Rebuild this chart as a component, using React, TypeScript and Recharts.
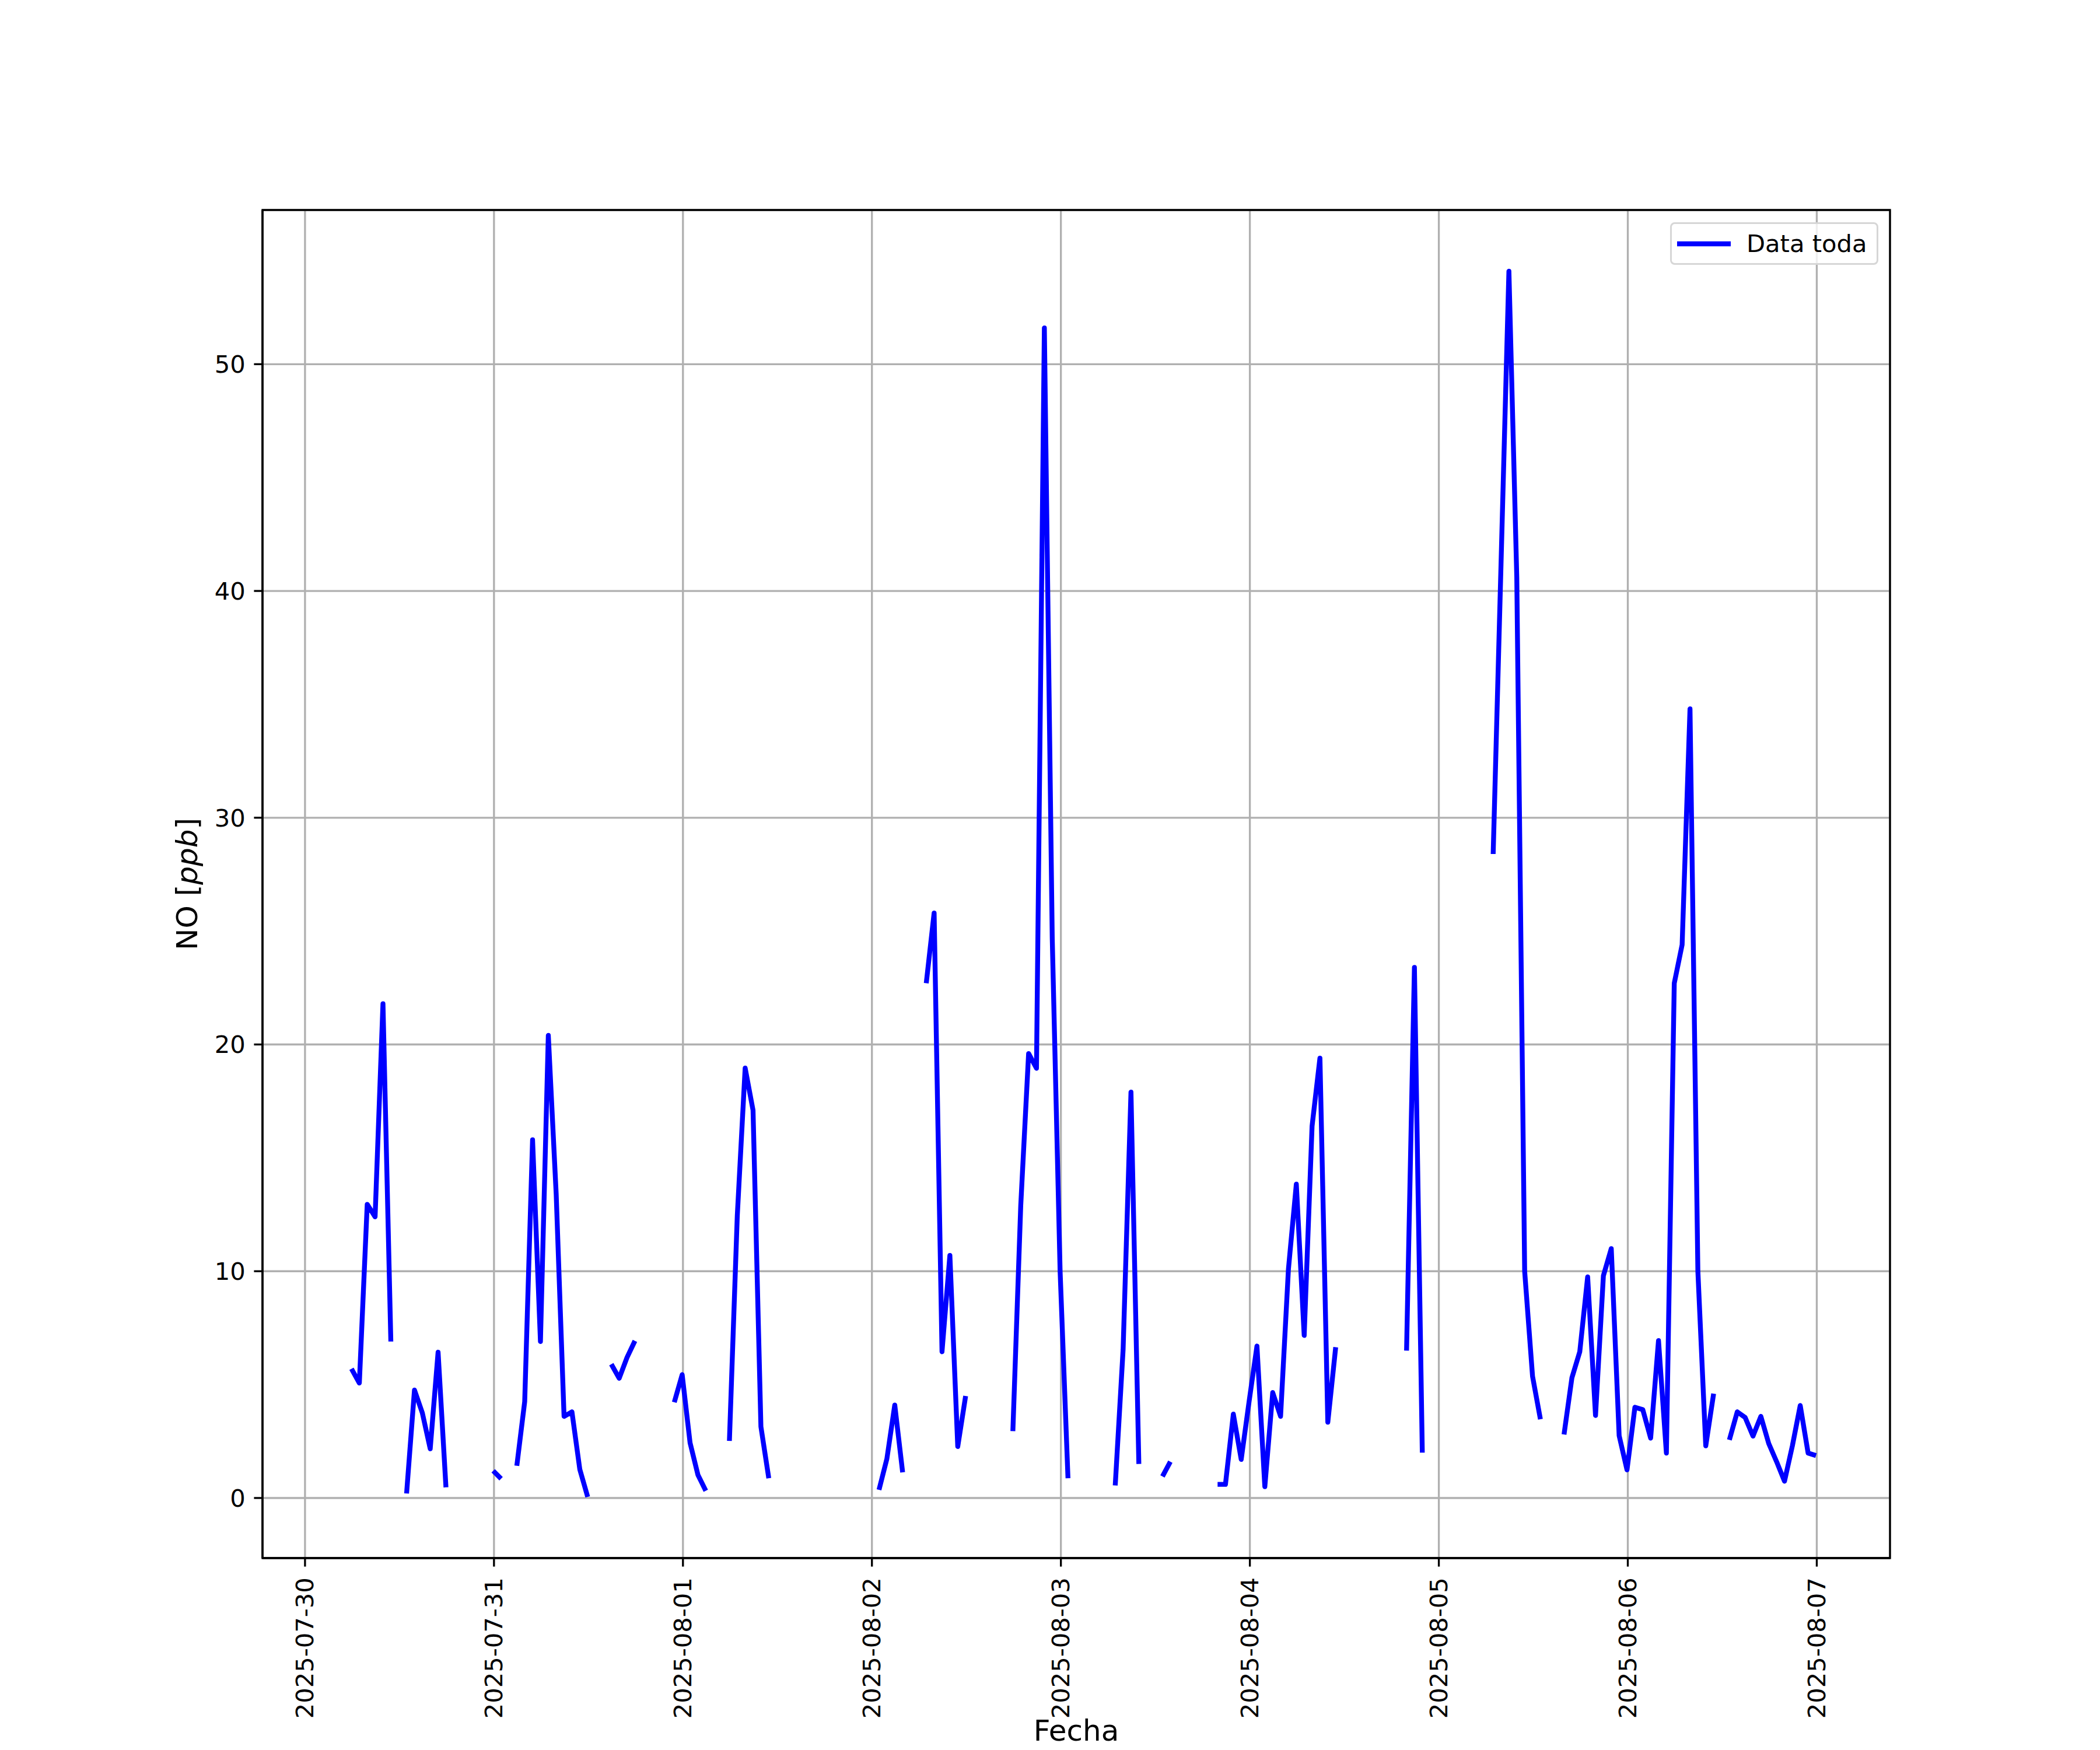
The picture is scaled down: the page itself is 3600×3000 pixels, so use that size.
import React from "react";
import {
  LineChart,
  Line,
  XAxis,
  YAxis,
  CartesianGrid,
  Legend,
  Label,
  ReferenceArea,
} from "recharts";

// hourly NO readings [ppb], one array per day, index = hour (samples land ~54 min past the hour)
const _ = null;
const HOUR_OFFSET = 0.9;

const DAY_LABELS = [
  "2025-07-30",
  "2025-07-31",
  "2025-08-01",
  "2025-08-02",
  "2025-08-03",
  "2025-08-04",
  "2025-08-05",
  "2025-08-06",
  "2025-08-07",
];

const no0730 = [_, _, _, _, _, 5.7, 5.07, 12.95, 12.4, 21.8, 6.9, _, 0.2, 4.76, 3.75, 2.17, 6.43, 0.47, _, _, _, _, _, 1.2];
const no0731 = [0.85, _, 1.42, 4.25, 15.8, 6.9, 20.4, 13.4, 3.6, 3.8, 1.26, 0.05, _, _, 5.9, 5.28, 6.2, 6.93, _, _, _, _, 4.22, 5.44];
const no0801 = [2.44, 1.02, 0.32, _, _, 2.52, 12.45, 18.96, 17.1, 3.15, 0.87, _, _, _, _, _, _, _, _, _, _, _, _, _];
const no0802 = [0.36, 1.73, 4.1, 1.13, _, _, 22.7, 25.8, 6.45, 10.7, 2.27, 4.5, _, _, _, _, _, 2.95, 12.9, 19.6, 18.95, 51.6, 24.7, 10.0];
const no0803 = [0.87, _, _, _, _, _, 0.55, 6.54, 17.9, 1.5, _, _, 0.95, 1.6, _, _, _, _, _, 0.6, 0.6, 3.7, 1.7, 4.25];
const no0804 = [6.7, 0.5, 4.65, 3.6, 10.1, 13.84, 7.17, 16.4, 19.4, 3.34, 6.65, _, _, _, _, _, _, _, _, 6.5, 23.4, 2.0, _, _];
const no0805 = [_, _, _, _, _, _, 28.4, 41.2, 54.1, 40.6, 10.0, 5.37, 3.47, _, _, 2.8, 5.3, 6.45, 9.75, 3.64, 9.8, 11.0, 2.75, 1.24];
const no0806 = [4.0, 3.9, 2.64, 6.94, 1.98, 22.7, 24.4, 34.8, 10.0, 2.3, 4.6, _, 2.56, 3.8, 3.55, 2.73, 3.6, 2.4, 1.6, 0.74, 2.3, 4.08, 1.98, 1.87];

const DAYS = [no0730, no0731, no0801, no0802, no0803, no0804, no0805, no0806];

const Y_TICKS = [0, 10, 20, 30, 40, 50];
const X_TICKS = DAY_LABELS.map((_d, i) => i * 24);

// axis limits as matplotlib autoscaled them (hours since 2025-07-30 00:00)
const X_MIN = -5.4;
const X_MAX = 201.3;
const Y_MIN = -2.65;
const Y_MAX = 56.8;

const data = DAYS.flatMap((day, d) =>
  day.map((v, h) => ({ t: d * 24 + h + HOUR_OFFSET, no: v }))
);

const FONT = "DejaVu Sans";
const PT = 300 / 72; // figure was saved at 300 dpi

const XTick = ({ x, y, payload }: any) => {
  const ty = y + 4;
  return (
    <text
      x={x}
      y={ty}
      transform={`rotate(-90, ${x}, ${ty})`}
      textAnchor="end"
      dominantBaseline="central"
      fontFamily={FONT}
      fontSize={10 * PT}
      fill="#000"
    >
      {DAY_LABELS[Math.round(payload.value / 24)]}
    </text>
  );
};

const YLabel = ({ viewBox }: any) => {
  const cx = viewBox.x + 71;
  const cy = viewBox.y + viewBox.height / 2;
  return (
    <text
      x={cx}
      y={cy}
      transform={`rotate(-90, ${cx}, ${cy})`}
      textAnchor="middle"
      dominantBaseline="central"
      fontFamily={FONT}
      fontSize={12 * PT}
      fill="#000"
    >
      NO [<tspan fontStyle="italic">ppb</tspan>]
    </text>
  );
};

const LegendBox = () => (
  <div
    style={{
      display: "flex",
      alignItems: "center",
      boxSizing: "border-box",
      width: 357,
      height: 73,
      border: "3.3px solid #d6d6d6",
      borderRadius: 8,
      background: "rgba(255,255,255,0.8)",
      paddingLeft: 9,
      fontFamily: FONT,
      fontSize: 10 * PT,
      color: "#000",
    }}
  >
    <svg width={92} height={12}>
      <line x1={0} y1={6} x2={92} y2={6} stroke="#0000ff" strokeWidth={2 * PT} />
    </svg>
    <span style={{ marginLeft: 27, lineHeight: 1 }}>Data toda</span>
  </div>
);

export default function App() {
  return (
    <div style={{ width: 3600, height: 3000, background: "#fff" }}>
      <style>{"body{margin:0}"}</style>
      <LineChart
        width={3600}
        height={3000}
        data={data}
        margin={{ top: 360, right: 360, left: 250, bottom: 4 }}
      >
        <CartesianGrid stroke="#b0b0b0" strokeWidth={0.8 * PT} />
        <XAxis
          dataKey="t"
          type="number"
          domain={[X_MIN, X_MAX]}
          ticks={X_TICKS}
          allowDataOverflow
          height={325}
          tick={<XTick />}
          tickSize={3.5 * PT}
          tickMargin={3.5 * PT}
          axisLine={{ stroke: "#000", strokeWidth: 0.8 * PT }}
          tickLine={{ stroke: "#000", strokeWidth: 0.8 * PT }}
          interval={0}
        >
          <Label
            value="Fecha"
            position="insideBottom"
            offset={12}
            style={{ fontFamily: FONT, fontSize: 12 * PT, fill: "#000" }}
          />
        </XAxis>
        <YAxis
          type="number"
          domain={[Y_MIN, Y_MAX]}
          ticks={Y_TICKS}
          allowDataOverflow
          width={200}
          tick={{ fontFamily: FONT, fontSize: 10 * PT, fill: "#000" }}
          tickSize={3.5 * PT}
          tickMargin={3.5 * PT}
          axisLine={{ stroke: "#000", strokeWidth: 0.8 * PT }}
          tickLine={{ stroke: "#000", strokeWidth: 0.8 * PT }}
          interval={0}
        >
          <Label content={<YLabel />} />
        </YAxis>
        <ReferenceArea
          x1={X_MIN}
          x2={X_MAX}
          y1={Y_MIN}
          y2={Y_MAX}
          fill="none"
          stroke="#000"
          strokeWidth={0.8 * PT}
          ifOverflow="visible"
        />
        <Line
          type="linear"
          dataKey="no"
          name="Data toda"
          stroke="#0000ff"
          strokeWidth={2 * PT}
          strokeLinejoin="round"
          dot={false}
          activeDot={false}
          connectNulls={false}
          isAnimationActive={false}
        />
        <Legend
          layout="vertical"
          align="center"
          verticalAlign="middle"
          content={<LegendBox />}
          wrapperStyle={{ top: 381, left: 2863, width: 357 }}
        />
      </LineChart>
    </div>
  );
}
